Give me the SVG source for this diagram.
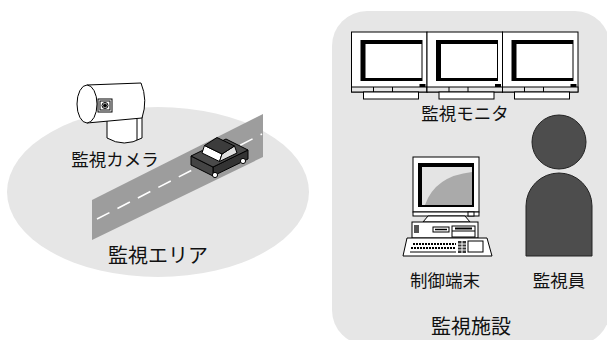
<svg xmlns="http://www.w3.org/2000/svg" width="607" height="340" viewBox="0 0 607 340">
  <style>
    .lbl { font-family: "Noto Sans CJK JP", "Noto Sans", sans-serif; fill: #111; text-anchor: middle; stroke: none; }
    .ln { stroke: #000; stroke-width: 1; }
    .wf { fill: #fff; stroke: #000; stroke-width: 1; }
  </style>
  <defs>
    <!-- one monitor of the wall display, local origin = top-left of the case -->
    <g id="crt">
      <rect class="wf" x="0" y="0" width="75.5" height="60"/>
      <rect x="9" y="8" width="62" height="41" fill="#000"/>
      <rect x="14" y="12" width="56" height="34" fill="#fff"/>
      <rect x="0" y="55" width="75.5" height="5" fill="#e6e6e6" stroke="#000" stroke-width="1"/>
      <rect x="68" y="52" width="6" height="3" fill="#000"/>
      <line class="ln" x1="22" y1="55" x2="22" y2="60"/>
      <line class="ln" x1="41" y1="55" x2="41" y2="60"/>
      <rect class="wf" x="12" y="60" width="55" height="7"/>
    </g>
  </defs>

  <!-- monitored area -->
  <g id="area">
    <ellipse cx="158" cy="192" rx="151" ry="85" fill="#e6e6e6"/>
    <polygon points="92,200 263,114 263,157 92,240" fill="#9d9d9d"/>
    <line x1="97" y1="219" x2="262" y2="134" stroke="#fff" stroke-width="1.6" stroke-dasharray="14,9"/>
    <text class="lbl" x="158" y="263" font-size="20">監視エリア</text>
  </g>

  <!-- vehicle on the road -->
  <g id="car" stroke="#000" stroke-width="1" stroke-linejoin="round">
    <!-- lower body: side, front, top -->
    <polygon points="213,176 248,159 248,150 213,167" fill="#333"/>
    <polygon points="213,176 191,165 191,156 213,167" fill="#444"/>
    <polygon points="213,167 248,150 226,139 191,156" fill="#4a4a4a"/>
    <!-- cabin: windscreen, side glass, roof -->
    <polygon points="219.5,161.5 202,153 204.5,145.5 222,154" fill="#fff"/>
    <polygon points="219.5,161.5 237,153 234.5,146 222,154" fill="#ddd"/>
    <polygon points="222,154 234.5,146 217,137.5 204.5,145.5" fill="#3c3c3c"/>
    <circle cx="215" cy="175" r="2.6" fill="#fff"/>
    <circle cx="243" cy="161" r="2.6" fill="#fff"/>
  </g>

  <!-- surveillance camera -->
  <g id="camera" stroke="#000" stroke-width="1" fill="#fff">
    <!-- mount -->
    <path d="M107,118 V138 Q124,148 142,138 V116 Z"/>
    <line x1="137" y1="119" x2="137" y2="140"/>
    <!-- barrel -->
    <path d="M87,85 L141,83 Q148,100 142,118 L87,123 Z"/>
    <ellipse cx="87" cy="104" rx="10" ry="19"/>
    <!-- lens -->
    <rect x="98" y="99" width="14" height="13"/>
    <rect x="100" y="101" width="10" height="9"/>
    <circle cx="105" cy="105.5" r="3"/>
    <circle cx="105" cy="105.5" r="1.5" fill="#000"/>
    <text class="lbl" x="115" y="166" font-size="17.5">監視カメラ</text>
  </g>

  <!-- monitoring facility -->
  <g id="facility">
    <rect x="332" y="11" width="278" height="334" rx="35" ry="35" fill="#e6e6e6"/>
    <text class="lbl" x="471" y="334" font-size="20">監視施設</text>
  </g>

  <!-- monitor wall -->
  <g id="monitors">
    <use href="#crt" x="351.5" y="32"/>
    <use href="#crt" x="427" y="32"/>
    <use href="#crt" x="502.5" y="32"/>
    <text class="lbl" x="465" y="120" font-size="17.5">監視モニタ</text>
  </g>

  <!-- control terminal -->
  <g id="terminal" stroke="#000" stroke-width="1">
    <!-- display -->
    <rect x="413" y="157" width="66" height="55" fill="#fff"/>
    <rect x="418" y="163" width="56" height="44" fill="#000" stroke="none"/>
    <rect x="422" y="167" width="50" height="38" fill="#aaa" stroke="none"/>
    <path d="M422,167 H472 V172 Q435,176 425,205 H422 Z" fill="#e4e4e4" stroke="none"/>
    <rect x="413" y="212" width="66" height="4" fill="#fff"/>
    <rect x="468" y="212" width="6" height="4" fill="#fff"/>
    <polygon points="428,216 465,216 470,222 423,222" fill="#fff"/>
    <!-- system unit -->
    <rect x="412" y="222" width="66" height="16" fill="#fff"/>
    <rect x="414" y="225" width="5" height="8" fill="#555" stroke="none"/>
    <rect x="433" y="227" width="16" height="5" fill="#fff"/>
    <line x1="435" y1="229.5" x2="447" y2="229.5" stroke-width="1.5"/>
    <rect x="452" y="226" width="23" height="11" fill="#fff"/>
    <line x1="452" y1="231" x2="475" y2="231"/>
    <rect x="455" y="227.5" width="17" height="2" fill="#000" stroke="none"/>
    <!-- keyboard -->
    <polygon points="407,238 487,238 492,256 403,256" fill="#fff"/>
    <line x1="413" y1="244" x2="456" y2="244" stroke-width="2" stroke-dasharray="2,1"/>
    <line x1="411" y1="248" x2="456" y2="248" stroke-width="2" stroke-dasharray="2,1"/>
    <line x1="410" y1="252" x2="456" y2="252" stroke-width="1"/>
    <rect x="458" y="241" width="8" height="12" fill="#333" stroke="none"/>
    <line x1="458" y1="244" x2="466" y2="244" stroke="#fff"/>
    <line x1="458" y1="247" x2="466" y2="247" stroke="#fff"/>
    <line x1="458" y1="250" x2="466" y2="250" stroke="#fff"/>
    <line x1="462" y1="241" x2="462" y2="253" stroke="#fff"/>
    <rect x="468" y="241" width="15" height="11" fill="#fff"/>
    <text class="lbl" x="445" y="287" font-size="17.5">制御端末</text>
  </g>

  <!-- operator -->
  <g id="operator">
    <circle cx="559" cy="142" r="27" fill="#4d4d4d" stroke="#222" stroke-width="1"/>
    <path d="M526,256 V206 A33,33 0 0 1 592,206 V256 Z" fill="#4d4d4d" stroke="#222" stroke-width="1"/>
    <text class="lbl" x="559" y="287" font-size="17.5">監視員</text>
  </g>

  <g id="connectors"/>
</svg>
